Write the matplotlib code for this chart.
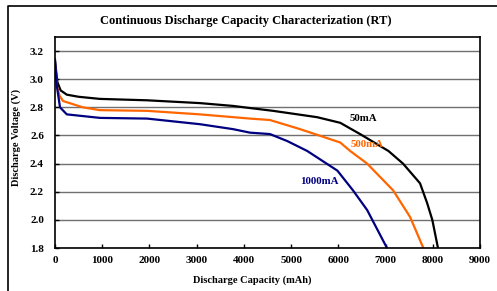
import numpy as np
import matplotlib.pyplot as plt
from matplotlib.lines import Line2D

# discharge curves (capacity mAh, voltage V)
cap_50 = [0, 50, 120, 250, 500, 950, 1950, 3070, 3770, 4130, 4620, 5550, 6040, 6460, 7060, 7370, 7730, 7880, 7990, 8110]
v_50 = [3.13, 2.98, 2.92, 2.89, 2.875, 2.86, 2.85, 2.83, 2.81, 2.795, 2.775, 2.73, 2.69, 2.61, 2.49, 2.40, 2.26, 2.12, 2.00, 1.80]

cap_500 = [0, 40, 100, 170, 590, 950, 1950, 3070, 4130, 4550, 5190, 6040, 6250, 6610, 7160, 7520, 7800]
v_500 = [3.10, 2.95, 2.88, 2.845, 2.80, 2.78, 2.775, 2.75, 2.72, 2.71, 2.645, 2.55, 2.49, 2.40, 2.21, 2.02, 1.80]

cap_1000 = [0, 40, 106, 250, 950, 1950, 3070, 3770, 4130, 4550, 4920, 5340, 5980, 6310, 6610, 7030]
v_1000 = [3.14, 2.95, 2.80, 2.75, 2.725, 2.72, 2.68, 2.645, 2.62, 2.61, 2.56, 2.49, 2.35, 2.21, 2.07, 1.80]

labels = ['50mA', '500mA', '1000mA']
colors = ['black', '#FF6600', '#000080']
label_pos = [(6520, 2.72), (6610, 2.535), (5600, 2.27)]

plt.rcParams['font.family'] = ['Liberation Serif', 'DejaVu Serif']
plt.rcParams['font.weight'] = 'bold'

fig = plt.figure(figsize=(4.97, 2.91), dpi=100)
ax = fig.add_axes([55/497, 1-248/291, (480-55)/497, (248-37)/291])

for cap, v, c in zip([cap_50, cap_500, cap_1000], [v_50, v_500, v_1000], colors):
    ax.plot(cap, v, color=c, lw=1.6, solid_joinstyle='round')

for lab, (x, y), c in zip(labels, label_pos, colors):
    ax.text(x, y, lab, color=c, fontsize=7.8, fontweight='bold', ha='center', va='center')

ax.set_xlim(0, 9000)
ax.set_ylim(1.8, 3.3)
ax.set_xticks(np.arange(0, 9001, 1000))
ax.set_yticks(np.arange(1.8, 3.21, 0.2))
ax.set_yticklabels([f'{t:.1f}' for t in np.arange(1.8, 3.21, 0.2)])
ax.tick_params(direction='in', length=3, labelsize=8, width=1)
ax.tick_params(axis='x', pad=6)
ax.tick_params(axis='y', pad=8)
for t in ax.get_xticklabels() + ax.get_yticklabels():
    t.set_fontweight('bold')
ax.grid(axis='y', color='#707070', lw=1)
ax.set_axisbelow(True)
for s in ax.spines.values():
    s.set_linewidth(1.2)

fig.text(0.495, 1-21/291, 'Continuous Discharge Capacity Characterization (RT)', ha='center', va='center',
         fontsize=9, fontweight='bold')
fig.text(0.507, 1-280/291, 'Discharge Capacity (mAh)', ha='center', va='center', fontsize=7.5, fontweight='bold')
fig.text(0.032, 0.527, 'Discharge Voltage (V)', ha='center', va='center', rotation=90, fontsize=7.5,
         fontweight='bold')

# outer chart frame (cropped)
fig.add_artist(Line2D([8/497, 8/497, 1], [0, 1-6/291, 1-6/291], transform=fig.transFigure, color='black', lw=1.2))

fig.savefig('out.png', dpi=100)
